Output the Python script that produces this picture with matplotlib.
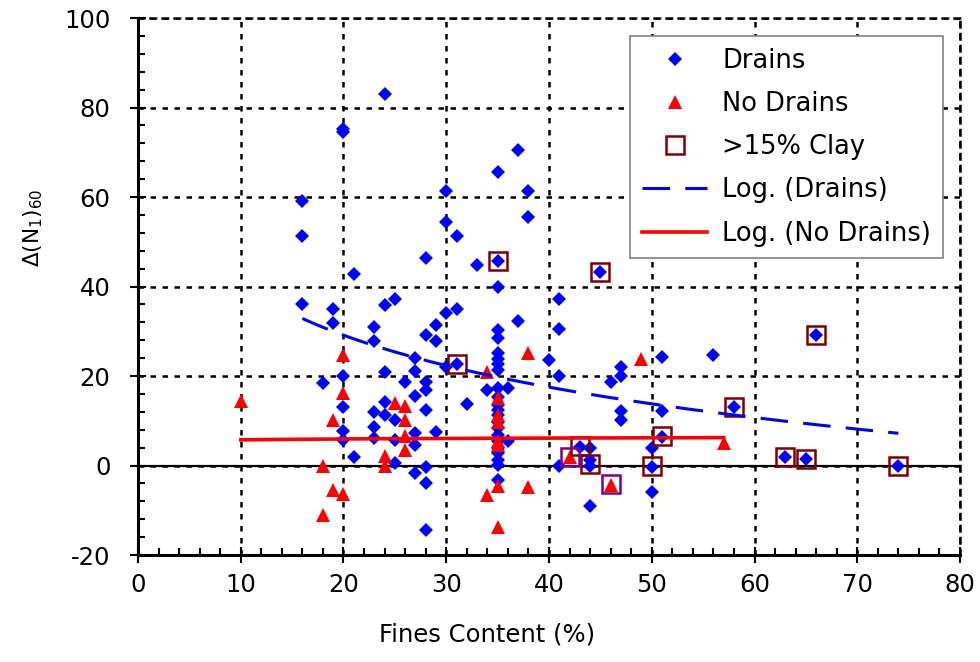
import numpy as np
import matplotlib.pyplot as plt
from matplotlib.ticker import MultipleLocator
from matplotlib.lines import Line2D

plt.rcParams['font.family'] = 'DejaVu Sans'
plt.rcParams['mathtext.fontset'] = 'dejavusans'
plt.rcParams['axes.unicode_minus'] = False

# sites with drains
drains_x = [16, 16, 16, 18, 19, 19,
            20, 20, 20, 20, 20, 20,
            21, 21, 23, 23, 23, 23, 23,
            24, 24, 24, 24, 24, 25, 25, 25, 25, 26,
            27, 27, 27, 27, 27, 27,
            28, 28, 28, 28, 28, 28, 28, 28,
            29, 29, 29, 30, 30, 30, 30, 31, 31, 31, 32, 33, 34,
            35, 35, 35, 35, 35, 35, 35, 35, 35, 35, 35, 35,
            35, 35, 35, 35, 35, 35, 35, 35, 35, 35, 35,
            36, 36, 37, 37, 38, 38, 40, 41, 41, 41, 41,
            43, 44, 44, 44, 44, 45, 46, 47, 47, 47, 47,
            50, 50, 50, 51, 51, 51, 56, 58, 63, 65, 66, 74]
drains_y = [59.1, 51.2, 36.2, 18.5, 34.9, 31.8,
            75.2, 74.6, 20.0, 13.1, 7.7, 5.8,
            42.9, 1.9, 31.0, 27.8, 12.0, 8.5, 6.1,
            83.0, 35.8, 20.8, 14.2, 11.3, 37.2, 10.2, 5.8, 0.5, 18.7,
            24.0, 21.2, 15.5, 7.3, 4.5, -1.6,
            46.4, 29.1, 18.7, 16.9, 12.4, -0.3, -3.9, -14.4,
            31.4, 27.8, 7.4, 61.3, 54.4, 34.0, 22.0, 51.2, 34.9, 22.6, 13.7, 44.7, 16.9,
            65.7, 45.8, 39.8, 30.2, 28.4, 25.1, 23.9, 22.6, 21.3, 17.3, 15.4, 13.5,
            12.4, 11.3, 9.8, 8.4, 6.9, 5.4, 3.9, 2.8, 1.3, 0.2, -3.2,
            17.3, 5.4, 70.6, 32.2, 61.3, 55.6, 23.5, 37.1, 30.5, 20.0, 0.0,
            4.2, 4.0, 1.3, -0.2, -9.1, 43.2, 18.6, 22.1, 19.9, 12.1, 10.1,
            4.0, -0.3, -6.0, 24.3, 12.1, 6.4, 24.8, 13.0, 1.9, 1.4, 29.1, 0.0]

# sites without drains
nodrains_x = [10, 18, 18, 19, 19, 20, 20, 20, 24, 24, 25, 26, 26, 26, 26,
              34, 34, 35, 35, 35, 35, 35, 35, 35, 38, 38, 42, 46, 49, 57]
nodrains_y = [14.4, -0.1, -11.1, 10.1, -5.4, 24.6, 16.2, -6.3, 2.2, -0.1, 14.0, 13.2, 10.1, 6.7, 3.5,
              21.0, -6.6, 15.0, 11.3, 9.8, 5.4, 4.6, -4.5, -13.7, 25.1, -4.8, 1.8, -4.3, 23.9, 5.0]

# more than 15% clay
clay_x = [31, 35, 43, 44, 45, 50, 51, 58, 63, 65, 66, 74]
clay_y = [22.7, 45.8, 4.3, 0.3, 43.2, 0.0, 6.5, 13.0, 1.9, 1.4, 29.1, 0.0]
clay_nd_x = [42, 46]
clay_nd_y = [1.9, -4.2]

xticks = [0, 10, 20, 30, 40, 50, 60, 70, 80]
yticks = [-20, 0, 20, 40, 60, 80, 100]

DIAMOND = dict(marker='D', ms=7.6, color='blue', mew=0)
TRIANGLE = dict(marker='^', ms=10.5, color='red', mew=0)
BOX = dict(marker='s', ms=13, mfc='none', mew=1.8)

fig = plt.figure(figsize=(9.8, 6.62), dpi=100)
ax = fig.add_axes([0.1408, 0.1616, 0.8388, 0.8112])

ax.set_xlim(0, 80)
ax.set_ylim(-20, 100)
ax.set_xticks(xticks)
ax.set_yticks(yticks)
ax.xaxis.set_minor_locator(MultipleLocator(2))
ax.yaxis.set_minor_locator(MultipleLocator(4))

ax.grid(True, which='major', color='black', lw=1.8, ls=(0, (2.2, 2.6)))
ax.set_axisbelow(True)
ax.axhline(0, color='black', lw=1.6, zorder=1)

ax.plot(drains_x, drains_y, ls='none', zorder=3, **DIAMOND)
ax.plot(nodrains_x, nodrains_y, ls='none', zorder=4, **TRIANGLE)
ax.plot(clay_x, clay_y, ls='none', mec='#800000', zorder=5, **BOX)
ax.plot(clay_nd_x, clay_nd_y, ls='none', mec='#800080', zorder=5, **BOX)

# logarithmic trendlines
dx = np.array(drains_x, float)
a, b = np.polyfit(np.log(dx), drains_y, 1)
xs = np.linspace(dx.min(), dx.max(), 200)
ax.plot(xs, a * np.log(xs) + b, color='blue', lw=2.2, dashes=(9, 5), zorder=6)

nx = np.array(nodrains_x, float)
c, d = np.polyfit(np.log(nx), nodrains_y, 1)
xs = np.linspace(nx.min(), nx.max(), 200)
ax.plot(xs, c * np.log(xs) + d, color='red', lw=2.6, zorder=6)

for side in ['left', 'bottom']:
    ax.spines[side].set_linewidth(2.2)
for side in ['top', 'right']:
    ax.spines[side].set_linewidth(1.8)
    ax.spines[side].set_linestyle((0, (2.2, 2.6)))

ax.tick_params(which='major', direction='inout', length=11.5, width=1.5, labelsize=17.5)
ax.tick_params(axis='y', which='major', pad=14)
ax.tick_params(axis='x', which='major', pad=7)
ax.tick_params(which='minor', direction='in', length=5, width=1.5)
ax.tick_params(top=False, right=False, which='both')

ax.set_xlabel('Fines Content (%)', fontsize=17.5)
ax.xaxis.set_label_coords(0.425, -0.126)
ax.set_ylabel(r'$\mathregular{\Delta(N_1)_{60}}$', fontsize=15.5)
ax.yaxis.set_label_coords(-0.113, 0.61)

handles = [
    Line2D([], [], ls='none', **DIAMOND),
    Line2D([], [], ls='none', **TRIANGLE),
    Line2D([], [], ls='none', mec='#800000', **BOX),
    Line2D([], [], color='blue', lw=2.2, dashes=(9, 5)),
    Line2D([], [], color='red', lw=2.6),
]
labels = ['Drains', 'No Drains', '>15% Clay', 'Log. (Drains)', 'Log. (No Drains)']
leg = ax.legend(handles, labels, loc='upper right', bbox_to_anchor=(0.979, 0.966),
                borderaxespad=0, fontsize=18.5, fancybox=False, framealpha=1,
                edgecolor='#808080', handlelength=2.55, handletextpad=0.58,
                labelspacing=0.67, borderpad=0.45)
leg.get_frame().set_linewidth(1.2)
leg.set_zorder(10)

fig.savefig('out.png', dpi=100)
